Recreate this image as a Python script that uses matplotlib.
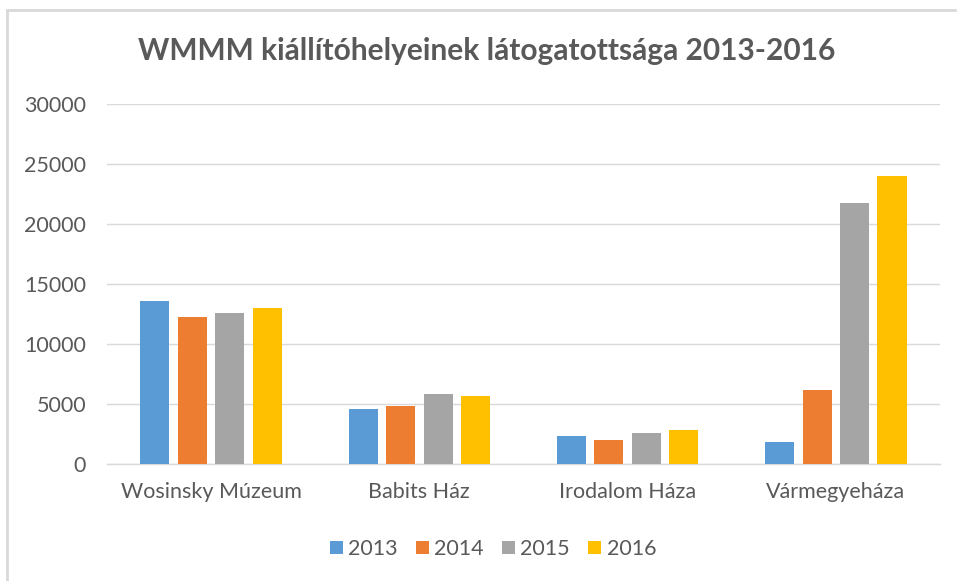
import matplotlib.pyplot as plt
import numpy as np

plt.rcParams['font.family'] = ['Lato', 'DejaVu Sans']

categories = ['Wosinsky Múzeum', 'Babits Ház', 'Irodalom Háza', 'Vármegyeháza']
years = ['2013', '2014', '2015', '2016']
v2013 = [13600, 4600, 2350, 1850]
v2014 = [12300, 4850, 2000, 6200]
v2015 = [12600, 5900, 2580, 21800]
v2016 = [13000, 5720, 2870, 24050]
colors = ['#5B9BD5', '#ED7D31', '#A5A5A5', '#FFC000']
yticks = [0, 5000, 10000, 15000, 20000, 25000, 30000]

fig = plt.figure(figsize=(9.57, 5.81), dpi=100)
ax = fig.add_axes([0.1118, 0.2008, 0.8704, 0.6197])

x = np.arange(len(categories))
step = 0.18
width = 0.14
series = [v2013, v2014, v2015, v2016]
for i, vals in enumerate(series):
    ax.bar(x + (i - 1.5) * step, vals, width, color=colors[i], label=years[i], zorder=3)

ax.set_xlim(-0.5, len(categories) - 0.5)
ax.set_ylim(0, 30000)
ax.set_yticks(yticks)
ax.set_yticklabels([str(t) for t in yticks])
ax.set_xticks(x)
ax.set_xticklabels(categories)
ax.tick_params(axis='both', length=0, labelcolor='#595959')
ax.tick_params(axis='y', pad=15, labelsize=15.5)
ax.tick_params(axis='x', pad=13, labelsize=15.5)
ax.grid(axis='y', color='#D9D9D9', linewidth=1, zorder=0)
for s in ['top', 'right', 'left']:
    ax.spines[s].set_visible(False)
ax.spines['bottom'].set_color('#D9D9D9')
ax.spines['bottom'].set_linewidth(1)

fig.text(0.509, 0.913, 'WMMM kiállítóhelyeinek látogatottsága 2013-2016',
         ha='center', va='center', fontsize=21.5, fontweight='bold', color='#595959')

leg = fig.legend(loc='center', bbox_to_anchor=(0.515, 0.055), ncol=4, frameon=False,
                 fontsize=15.5, handlelength=0.6, handleheight=0.6, handletextpad=0.25,
                 columnspacing=0.85)
for t in leg.get_texts():
    t.set_color('#595959')

# chart border
border = plt.Rectangle((0.0073, -0.01), 1.0, 0.993, transform=fig.transFigure,
                       fill=False, edgecolor='#D9D9D9', linewidth=2)
fig.patches.append(border)

fig.savefig('out.png', dpi=100)
